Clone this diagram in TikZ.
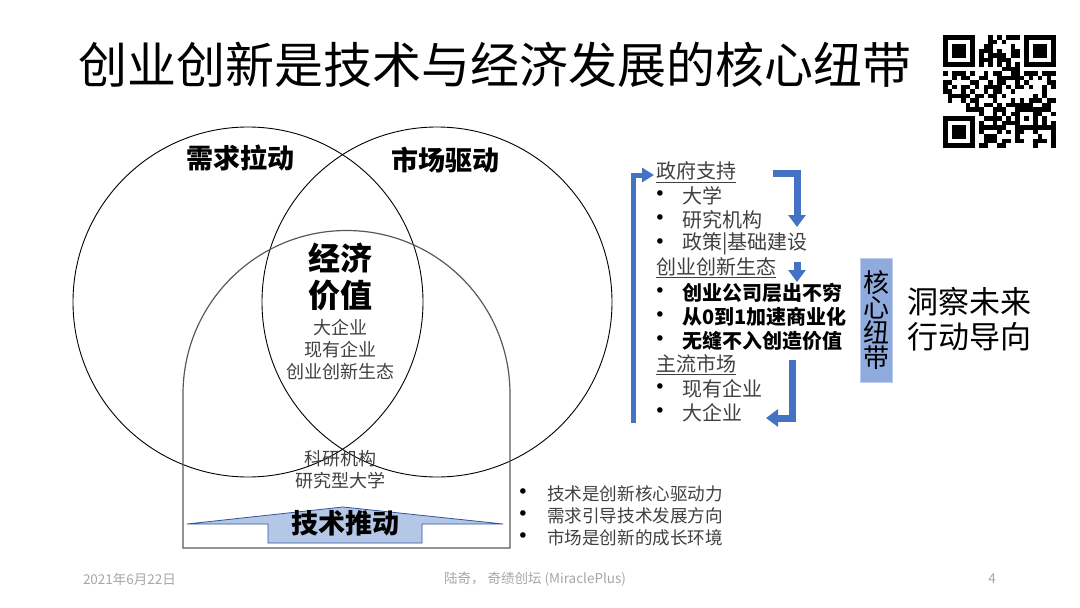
\documentclass[tikz,border=0pt]{standalone}
\usepackage{fontspec}
\setmainfont{Noto Sans CJK SC}
\newfontfamily\dotfont{DejaVu Sans}
\usetikzlibrary{arrows.meta}
\definecolor{flowblue}{HTML}{4472C4}
\definecolor{pushfill}{HTML}{B4C7E7}
\definecolor{pushline}{HTML}{2F5597}
\definecolor{tiefill}{HTML}{8FAADC}
\definecolor{txtgray}{HTML}{404040}
\definecolor{footgray}{HTML}{A6A6A6}
\newcommand{\fsz}[2]{\fontsize{#1}{#2}\selectfont}
\begin{document}
\begin{tikzpicture}[x=1pt,y=-1pt,
  every node/.style={inner sep=0pt,outer sep=0pt},
  ring/.style={draw=black,line width=0.9pt},
  arch/.style={draw=black!65,line width=1.2pt},
  push/.style={fill=pushfill,draw=pushline,line width=0.8pt},
  lbl/.style={font=\fsz{18}{22},text=txtgray,align=center},
  item/.style={anchor=west,font=\fsz{20}{24},text=txtgray},
  boldi/.style={anchor=west,font=\fsz{20}{24}\bfseries,text=black},
  note/.style={anchor=west,font=\fsz{17.6}{22},text=txtgray},
  dot/.style={font=\dotfont\fsz{19}{20},text=black},
  foot/.style={font=\fsz{13.5}{16},text=footgray},
  flow/.style={draw=flowblue,line width=5pt,-{Triangle[length=12pt,width=14pt]}},
  elbow/.style={draw=flowblue,line width=7pt,-{Triangle[length=12pt,width=17pt]}}]
\useasboundingbox (0,0) rectangle (1080,608);
% title and qr code
\node[font=\fsz{49}{55}] (title) at (495,65) {创业创新是技术与经济发展的核心纽带};
\pgfmathsetseed{11}
\foreach \r in {0,...,24}{
  \foreach \c in {0,...,24}{
    \pgfmathtruncatemacro\qskip{(\r<8 && \c<8) || (\r<8 && \c>16) || (\r>16 && \c<8) || (\r==6) || (\c==6) || (\r>15 && \r<21 && \c>15 && \c<21)}
    \ifnum\qskip=0
      \pgfmathtruncatemacro\qbit{rnd<0.5}
      \ifnum\qbit=1 \fill (943+4.5*\c,35+4.5*\r) rectangle ++(4.5,4.5);\fi
    \fi
  }
}
\foreach \qx/\qy in {943/35,1024/35,943/116}{
  \fill (\qx,\qy) rectangle ++(31.5,31.5);
  \fill[white] (\qx+4.5,\qy+4.5) rectangle ++(22.5,22.5);
  \fill (\qx+9,\qy+9) rectangle ++(13.5,13.5);
}
\foreach \k in {8,10,...,16}{
  \fill (943+4.5*\k,62) rectangle ++(4.5,4.5);
  \fill (970,35+4.5*\k) rectangle ++(4.5,4.5);
}
\fill (1015,107) rectangle ++(22.5,22.5);
\fill[white] (1019.5,111.5) rectangle ++(13.5,13.5);
\fill (1024,116) rectangle ++(4.5,4.5);
% venn
\draw[ring] (248,302) circle[radius=175pt];
\draw[ring] (437,302) circle[radius=175pt];
\draw[arch] (183,548) -- (183,394) arc[start angle=180,end angle=0,radius=163.5pt] -- (510,548) -- cycle;
\draw[push] (187,524) -- (343,507) -- (503,524) -- (422,524) -- (422,543) -- (268,543) -- (268,524) -- cycle;
\node[font=\fsz{27}{32}\bfseries] (pull) at (240,158) {需求拉动};
\node[font=\fsz{27}{32}\bfseries] (drive) at (445,160) {市场驱动};
\node[font=\fsz{32}{37}\bfseries,align=center] (value) at (340,277) {经济\\价值};
\node[lbl] (firms) at (340,350) {大企业\\现有企业\\创业创新生态};
\node[lbl] (labs) at (340,470) {科研机构\\研究型大学};
\node[font=\fsz{27}{32}\bfseries] (tech) at (345,523) {技术推动};
% notes under the list
\foreach \yy in {494,516,538} \node[dot] (nb\yy) at (523,\yy) {•};
\node[note] (n1) at (547,494) {技术是创新核心驱动力};
\node[note] (n2) at (547,516) {需求引导技术发展方向};
\node[note] (n3) at (547,538) {市场是创新的成长环境};
% list
\foreach \yy in {196,220,244,293,317,341,389,413} \node[dot] (lb\yy) at (660,\yy) {•};
\node[item] (gov) at (656,172) {\underline{政府支持}};
\node[item] (uni) at (682,196) {大学};
\node[item] (inst) at (682,220) {研究机构};
\node[item] (infra) at (682,244) {政策|基础建设};
\node[item] (eco) at (656,268) {\underline{创业创新生态}};
\node[boldi] (st1) at (682,293) {创业公司层出不穷};
\node[boldi] (st2) at (682,317) {从0到1加速商业化};
\node[boldi] (st3) at (682,341) {无缝不入创造价值};
\node[item] (main) at (656,365) {\underline{主流市场}};
\node[item] (inc) at (682,389) {现有企业};
\node[item] (big) at (682,413) {大企业};
% arrows
\coordinate (la) at (633,423);
\coordinate (lb) at (654,175);
\coordinate (ta) at (773,173);
\coordinate (tb) at (797,227);
\coordinate (sa) at (797,262);
\coordinate (sb) at (797,282);
\coordinate (ba) at (792,360);
\coordinate (bb) at (766,418);
\draw[flow] (la) |- (lb);
\draw[elbow] (ta) -| (tb);
\draw[elbow] (sa) -- (sb);
\draw[elbow] (ba) |- (bb);
% tie
\node[fill=tiefill,draw=tiefill!60!white,line width=1pt,minimum width=32pt,minimum height=124pt,
  align=center,font=\fsz{26}{25}] (tie) at (876,320) {核\\心\\纽\\带};
\node[anchor=west,align=left,font=\fsz{31}{35}] (look) at (907,319) {洞察未来\\行动导向};
% footer
\node[foot,anchor=west] (date) at (83,579) {2021年6月22日};
\node[foot] (src) at (535,579) {陆奇， 奇绩创坛 (MiraclePlus)};
\node[foot] (page) at (992,579) {4};
\end{tikzpicture}
\end{document}
